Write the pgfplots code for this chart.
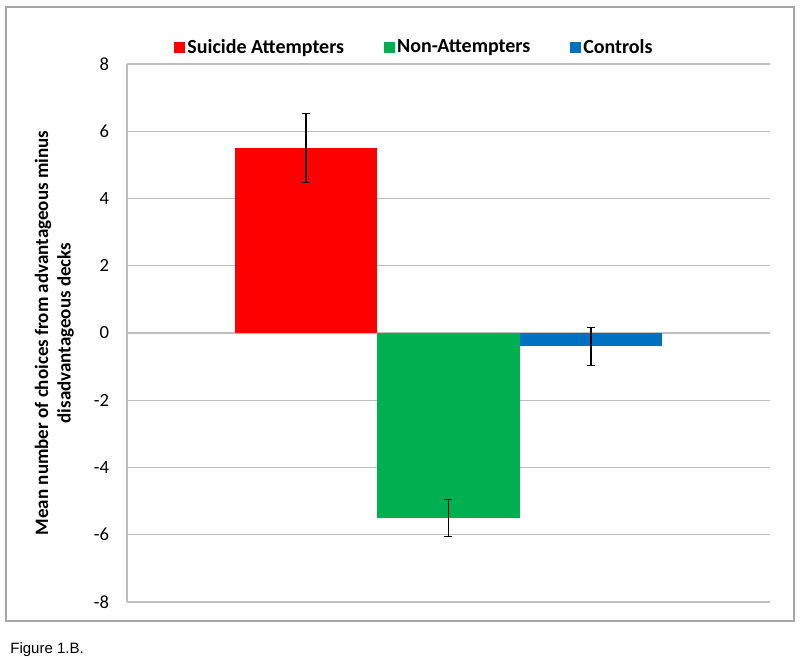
\documentclass[border=0pt]{standalone}
\usepackage{fontspec}
\setmainfont{Carlito}
\newfontfamily\arialfont{Liberation Sans}
\usepackage{pgfplots}
\pgfplotsset{compat=1.18}
\definecolor{sred}{HTML}{FF0000}
\definecolor{sgreen}{HTML}{00B050}
\definecolor{sblue}{HTML}{0070C0}
\definecolor{gridc}{HTML}{BFBFBF}
\definecolor{framec}{HTML}{A6A6A6}
\begin{document}
\begin{tikzpicture}
\path[use as bounding box] (0,0) rectangle (400pt,-329.5pt);
\draw[framec, line width=0.6pt] (3pt,-3.5pt) rectangle (397pt,-310.5pt);
\node[anchor=base west, inner sep=0pt, font=\arialfont\fontsize{7.5}{9}\selectfont] at (5pt,-326.5pt) {Figure 1.B.};
\begin{axis}[
  at={(63.5pt,-301pt)}, anchor=south west,
  width=321.5pt, height=269pt, scale only axis,
  xmin=-0.256, xmax=4.256, ymin=-8, ymax=8,
  ytick={-8,-6,...,8},
  axis x line=none, axis y line*=left,
  y axis line style={gridc, line width=0.6pt, -},
  ymajorgrids, major grid style={gridc, line width=0.6pt},
  ytick style={draw=none},
  /pgf/number format/assume math mode=true,
  yticklabel style={font=\fontsize{9.3}{11}\selectfont, xshift=-5.5pt},
  ylabel={Mean number of choices from advantageous minus\\disadvantageous decks},
  ylabel style={at={(axis description cs:-0.113,0.5)}, anchor=center, align=center, font=\bfseries\fontsize{9.5}{11.2}\selectfont},
  ybar, bar width=1,
  legend image code/.code={\fill[#1] (0pt,-2.75pt) rectangle (5.5pt,2.75pt);},
  legend columns=3,
  legend style={at={(axis description cs:0.0732,1.0307)}, anchor=west, draw=none, fill=none, inner sep=0pt,
    font=\bfseries\fontsize{10}{12}\selectfont,
    nodes={inner sep=1pt},
    /tikz/every even column/.append style={column sep=19pt}},
]
\addplot[bar shift=0pt, fill=sred, draw=none,
  error bars/.cd, y dir=both, y explicit,
  error bar style={black, line width=0.6pt},
  error mark options={black, line width=0.6pt, mark size=2pt, rotate=90}]
  coordinates {(1,5.5) +- (0,1.02)};
\addplot[bar shift=0pt, fill=sgreen, draw=none,
  error bars/.cd, y dir=both, y explicit,
  error bar style={black, line width=0.6pt},
  error mark options={black, line width=0.6pt, mark size=2pt, rotate=90}]
  coordinates {(2,-5.5) +- (0,0.55)};
\addplot[bar shift=0pt, fill=sblue, draw=none,
  error bars/.cd, y dir=both, y explicit,
  error bar style={black, line width=0.6pt},
  error mark options={black, line width=0.6pt, mark size=2pt, rotate=90}]
  coordinates {(3,-0.4) +- (0,0.57)};
\legend{Suicide Attempters, Non-Attempters, Controls}
\end{axis}
\end{tikzpicture}
\end{document}
